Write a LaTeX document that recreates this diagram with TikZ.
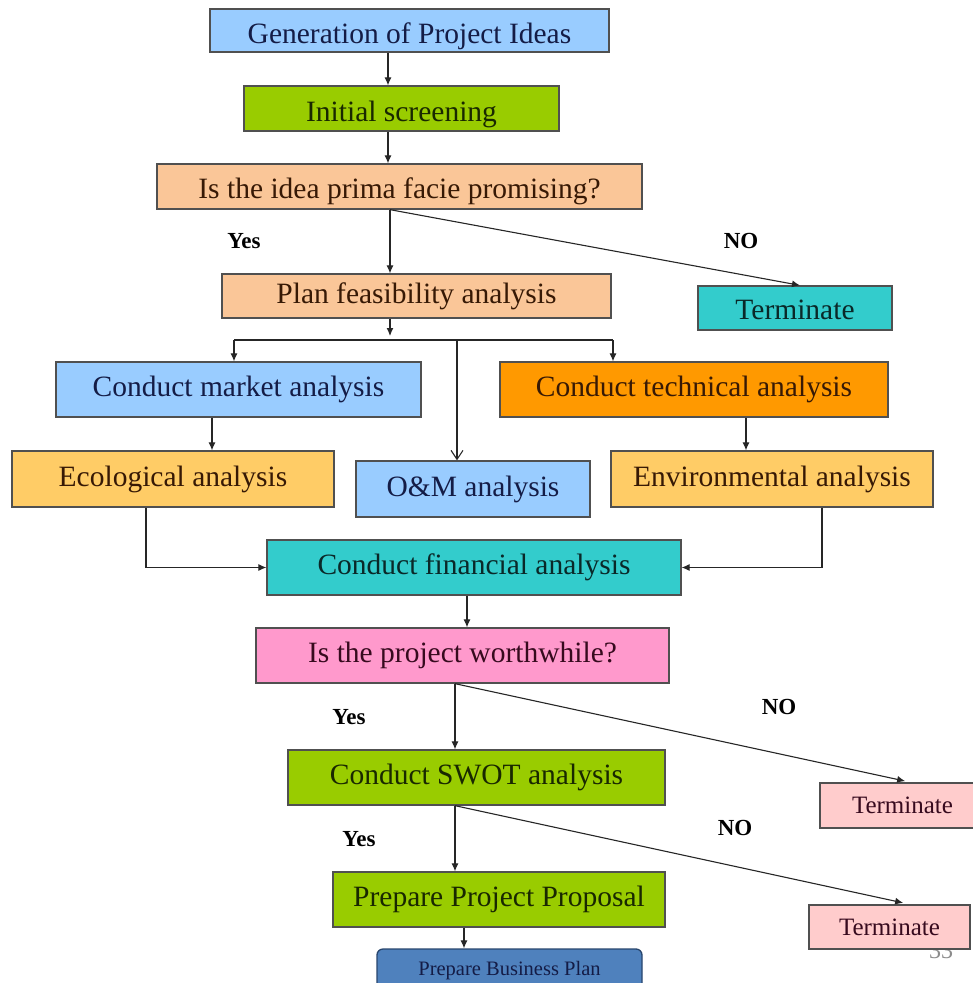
\documentclass[tikz,border=0pt]{standalone}
\usepackage{fontspec}
\setmainfont{Liberation Serif}
\usetikzlibrary{arrows.meta}
\definecolor{cblue}{RGB}{153,204,255}
\definecolor{cgreen}{RGB}{153,204,0}
\definecolor{cpeach}{RGB}{250,198,152}
\definecolor{cteal}{RGB}{51,204,204}
\definecolor{corange}{RGB}{255,153,0}
\definecolor{cgold}{RGB}{255,204,102}
\definecolor{cpink}{RGB}{255,153,204}
\definecolor{clpink}{RGB}{255,204,204}
\definecolor{csteel}{RGB}{79,129,189}
\definecolor{csteeldk}{RGB}{40,70,110}
\definecolor{tnavy}{RGB}{20,28,70}
\definecolor{tgreen}{RGB}{25,40,0}
\definecolor{tbrown}{RGB}{55,25,5}
\definecolor{tteal}{RGB}{10,40,40}
\definecolor{tpink}{RGB}{55,10,30}
\definecolor{edge}{RGB}{80,80,80}
\begin{document}
\begin{tikzpicture}[x=1pt,y=-1pt,
  box/.style={draw=edge, line width=1.3pt, inner sep=0pt, align=center,
    font=\fontsize{29.5}{32}\selectfont},
  lowtext/.style={text height=26pt, text depth=0pt},
  smallbox/.style={box, font=\fontsize{25}{28}\selectfont},
  arr/.style={draw=black!85, line width=1.1pt, -{Latex[length=8pt,width=7pt]}},
  openarr/.style={draw=black!85, line width=1.1pt, -{Straight Barb[length=9pt,width=12pt]}},
  plain/.style={draw=black!85, line width=1.1pt},
  lbl/.style={font=\bfseries\fontsize{23}{26}\selectfont, fill=white, inner sep=3pt},
]
\useasboundingbox (0,0) rectangle (973,983);
\fill[white] (0,0) rectangle (973,983);

% boxes
\node[box, lowtext, fill=cblue, text=tnavy, minimum width=399pt, minimum height=43pt] (gen) at (409.5,30.5) {Generation of Project Ideas};
\node[box, lowtext, fill=cgreen, text=tgreen, minimum width=315pt, minimum height=45pt] (init) at (401.5,108.5) {Initial screening};
\node[box, text height=24pt, text depth=0pt, fill=cpeach, text=tbrown, minimum width=485pt, minimum height=45pt] (q) at (399.5,186.5) {Is the idea prima facie promising?};
\node[box, fill=cpeach, text=tbrown, minimum width=389pt, minimum height=44pt] (plan) at (416.5,296) {Plan feasibility analysis};
\node[box, text height=23pt, text depth=0pt, fill=cteal, text=tteal, minimum width=194pt, minimum height=44pt] (term1) at (795,308) {Terminate};
\node[box, fill=cblue, text=tnavy, minimum width=365pt, minimum height=55pt] (market) at (238.5,389.5) {Conduct market analysis};
\node[box, fill=corange, text=tbrown, minimum width=388pt, minimum height=55pt] (tech) at (694,389.5) {Conduct technical analysis};
\node[box, fill=cgold, text=tbrown, minimum width=322pt, minimum height=56pt] (eco) at (173,479) {Ecological analysis};
\node[box, fill=cblue, text=tnavy, minimum width=234pt, minimum height=56pt] (om) at (473,489) {O\&M analysis};
\node[box, fill=cgold, text=tbrown, minimum width=322pt, minimum height=56pt] (env) at (772,479) {Environmental analysis};
\node[box, fill=cteal, text=tteal, minimum width=414pt, minimum height=55pt] (fin) at (474,567.5) {Conduct financial analysis};
\node[box, fill=cpink, text=tpink, minimum width=413pt, minimum height=55pt] (worth) at (462.5,655.5) {Is the project worthwhile?};
\node[box, fill=cgreen, text=tgreen, minimum width=377pt, minimum height=55pt] (swot) at (476.5,777.5) {Conduct SWOT analysis};
\node[box, fill=cgreen, text=tgreen, minimum width=332pt, minimum height=55pt] (prop) at (499,899.5) {Prepare Project Proposal};
\node[smallbox, fill=clpink, text=tpink, minimum width=165pt, minimum height=45pt] (term2) at (902.5,805.5) {Terminate};
\node[text=black!45, font=\fontsize{24}{24}\selectfont, inner sep=0pt] (pg) at (941,951) {33};
\node[smallbox, fill=clpink, text=tpink, minimum width=161pt, minimum height=44pt] (term3) at (889.5,927) {Terminate};
\node[box, fill=csteel, draw=csteeldk, text=tnavy, rounded corners=6pt, minimum width=265pt, minimum height=44pt,
  font=\fontsize{20.5}{22}\selectfont] (bp) at (509.5,971) {Prepare Business Plan};

% labels
\node[lbl] (yes1) at (244,241) {Yes};
\node[lbl] (no1) at (741,241) {NO};
\node[lbl] (yes2) at (349,717) {Yes};
\node[lbl] (no2) at (779,707) {NO};
\node[lbl] (yes3) at (359,839) {Yes};
\node[lbl] (no3) at (735,828) {NO};

% column coordinates
\coordinate (c388) at (388,0);
\coordinate (c390) at (390,0);
\coordinate (c800) at (800,0);
\coordinate (c146) at (146,0);
\coordinate (c212) at (212,0);
\coordinate (c746) at (746,0);
\coordinate (c822) at (822,0);
\coordinate (c467) at (467,0);
\coordinate (c455) at (455,0);
\coordinate (c911) at (911,0);
\coordinate (c910) at (910,0);
\coordinate (c464) at (464,0);
\coordinate (split) at (390,336);
\coordinate (barL) at (234,340);
\coordinate (barM) at (457,340);
\coordinate (barR) at (613,340);

% connectors
\draw[arr] (gen.south -| c388) -- (init.north -| c388);
\draw[arr] (init.south -| c388) -- (q.north -| c388);
\draw[arr] (q.south -| c390) -- (plan.north -| c390);
\draw[arr] (q.south -| c390) -- (term1.north -| c800);
\draw[arr] (plan.south -| c390) -- (split);
\draw[plain] (barL) -- (barR);
\draw[arr] (barL) -- (market.north -| barL);
\draw[arr] (barR) -- (tech.north -| barR);
\draw[openarr] (barM) -- (om.north -| barM);
\draw[arr] (market.south -| c212) -- (eco.north -| c212);
\draw[arr] (tech.south -| c746) -- (env.north -| c746);
\draw[arr] (eco.south -| c146) |- (fin.west);
\draw[arr] (env.south -| c822) |- (fin.east);
\draw[arr] (fin.south -| c467) -- (worth.north -| c467);
\draw[arr] (worth.south -| c455) -- (swot.north -| c455);
\draw[arr, shorten >=6pt] (worth.south -| c455) -- (term2.north -| c911);
\draw[arr] (swot.south -| c455) -- (prop.north -| c455);
\draw[arr, shorten >=7pt] (swot.south -| c455) -- (term3.north -| c910);
\draw[arr] (prop.south -| c464) -- (bp.north -| c464);
\end{tikzpicture}
\end{document}
